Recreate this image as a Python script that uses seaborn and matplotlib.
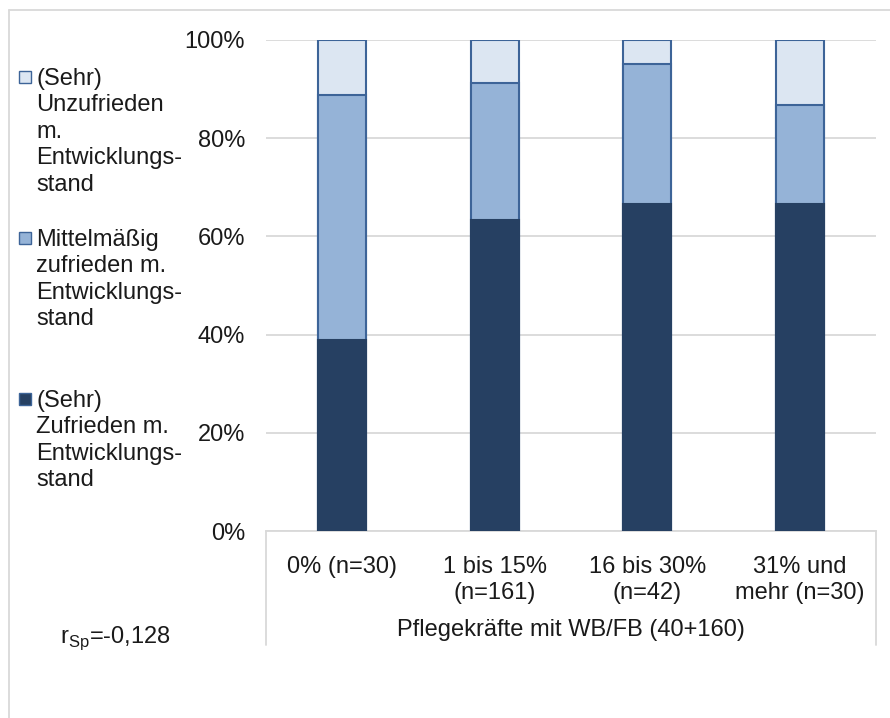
import numpy as np
import pandas as pd
import matplotlib
matplotlib.use("Agg")
import matplotlib.pyplot as plt
from matplotlib.lines import Line2D
from matplotlib.patches import Rectangle
import seaborn as sns

# ---- data ----
categories = ["0% (n=30)", "1 bis 15%\n(n=161)", "16 bis 30%\n(n=42)", "31% und\nmehr (n=30)"]
zufrieden = [38.9, 63.4, 66.7, 66.7]
mittel = [50.0, 27.9, 28.5, 20.0]
unzufrieden = [11.1, 8.7, 4.8, 13.3]
series_labels = ["(Sehr)\nUnzufrieden\nm.\nEntwicklungs-\nstand",
                 "Mittelmäßig\nzufrieden m.\nEntwicklungs-\nstand",
                 "(Sehr)\nZufrieden m.\nEntwicklungs-\nstand"]
y_ticks = [0, 20, 40, 60, 80, 100]
y_ticklabels = ["0%", "20%", "40%", "60%", "80%", "100%"]
group_label = "Pflegekräfte mit WB/FB (40+160)"
corr_label = r"r$_{\mathregular{Sp}}$=-0,128"

c_dark = "#264062"
c_mid = "#95B3D7"
c_light = "#DCE6F2"
c_edge = "#3D6498"
grid_c = "#D9D9D9"
txt_c = "#1a1a1a"
FS = 17

sns.set_theme(style="white")
plt.rcParams["font.family"] = ["Liberation Sans", "DejaVu Sans"]
plt.rcParams["mathtext.fontset"] = "custom"
plt.rcParams["mathtext.rm"] = "Liberation Sans"

df = pd.DataFrame({"cat": categories, "z": zufrieden, "m": mittel, "u": unzufrieden})
df["zm"] = df["z"] + df["m"]
df["all"] = df["zm"] + df["u"]

W, H = 890, 718
fig = plt.figure(figsize=(W / 100, H / 100), dpi=100)
ax = fig.add_axes([266 / W, 1 - 531 / H, 610 / W, 491 / H])

bw = 0.315
for col, c, ec in [("all", c_light, c_edge), ("zm", c_mid, c_edge), ("z", c_dark, c_dark)]:
    sns.barplot(data=df, x="cat", y=col, color=c, width=bw, ax=ax,
                edgecolor=ec, linewidth=1.5, saturation=1, zorder=3)

ax.set_ylim(0, 100)
ax.set_xlim(-0.5, 3.5)
ax.set_yticks(y_ticks)
ax.set_yticklabels(y_ticklabels, fontsize=FS, color=txt_c)
ax.tick_params(axis="y", length=0, pad=15)
ax.tick_params(axis="x", length=0, pad=18, labelsize=FS, labelcolor=txt_c)
for lab in ax.get_xticklabels():
    lab.set_linespacing(1.25)
ax.set_xlabel("")
ax.set_ylabel("")
ax.yaxis.grid(True, color=grid_c, linewidth=1.3, zorder=0)
ax.set_axisbelow(True)
for s in ["left", "right", "top"]:
    ax.spines[s].set_visible(False)
ax.spines["bottom"].set_color(grid_c)
ax.spines["bottom"].set_linewidth(1.3)

# group separators below the axis
for xf in (0, 1):
    ax.add_line(Line2D([xf, xf], [0, -114 / 491], transform=ax.transAxes,
                       color=grid_c, linewidth=1.3, clip_on=False))
ax.text(0.5, -99 / 491, group_label, transform=ax.transAxes, ha="center",
        va="center", fontsize=FS, color=txt_c)

# legend (manual, at left)
leg_entries = [(series_labels[0], c_light, 77), (series_labels[1], c_mid, 238),
               (series_labels[2], c_dark, 399)]
for text, c, yc in leg_entries:
    fig.patches.append(Rectangle((19 / W, 1 - (yc + 6) / H), 12 / W, 12 / H,
                                 transform=fig.transFigure, facecolor=c,
                                 edgecolor=c_edge, linewidth=1.0))
    fig.text(36 / W, 1 - (yc - 9) / H, text, ha="left", va="top", fontsize=FS,
             color=txt_c, linespacing=1.26)

fig.text(115 / W, 1 - 638 / H, corr_label, ha="center", va="center",
         fontsize=FS, color=txt_c)

# figure border (top and left)
fig.add_artist(Line2D([9 / W, 1], [1 - 9.5 / H, 1 - 9.5 / H], transform=fig.transFigure,
                      color=grid_c, linewidth=1.3))
fig.add_artist(Line2D([9 / W, 9 / W], [0, 1 - 9.5 / H], transform=fig.transFigure,
                      color=grid_c, linewidth=1.3))

fig.savefig("out.png", dpi=100)
